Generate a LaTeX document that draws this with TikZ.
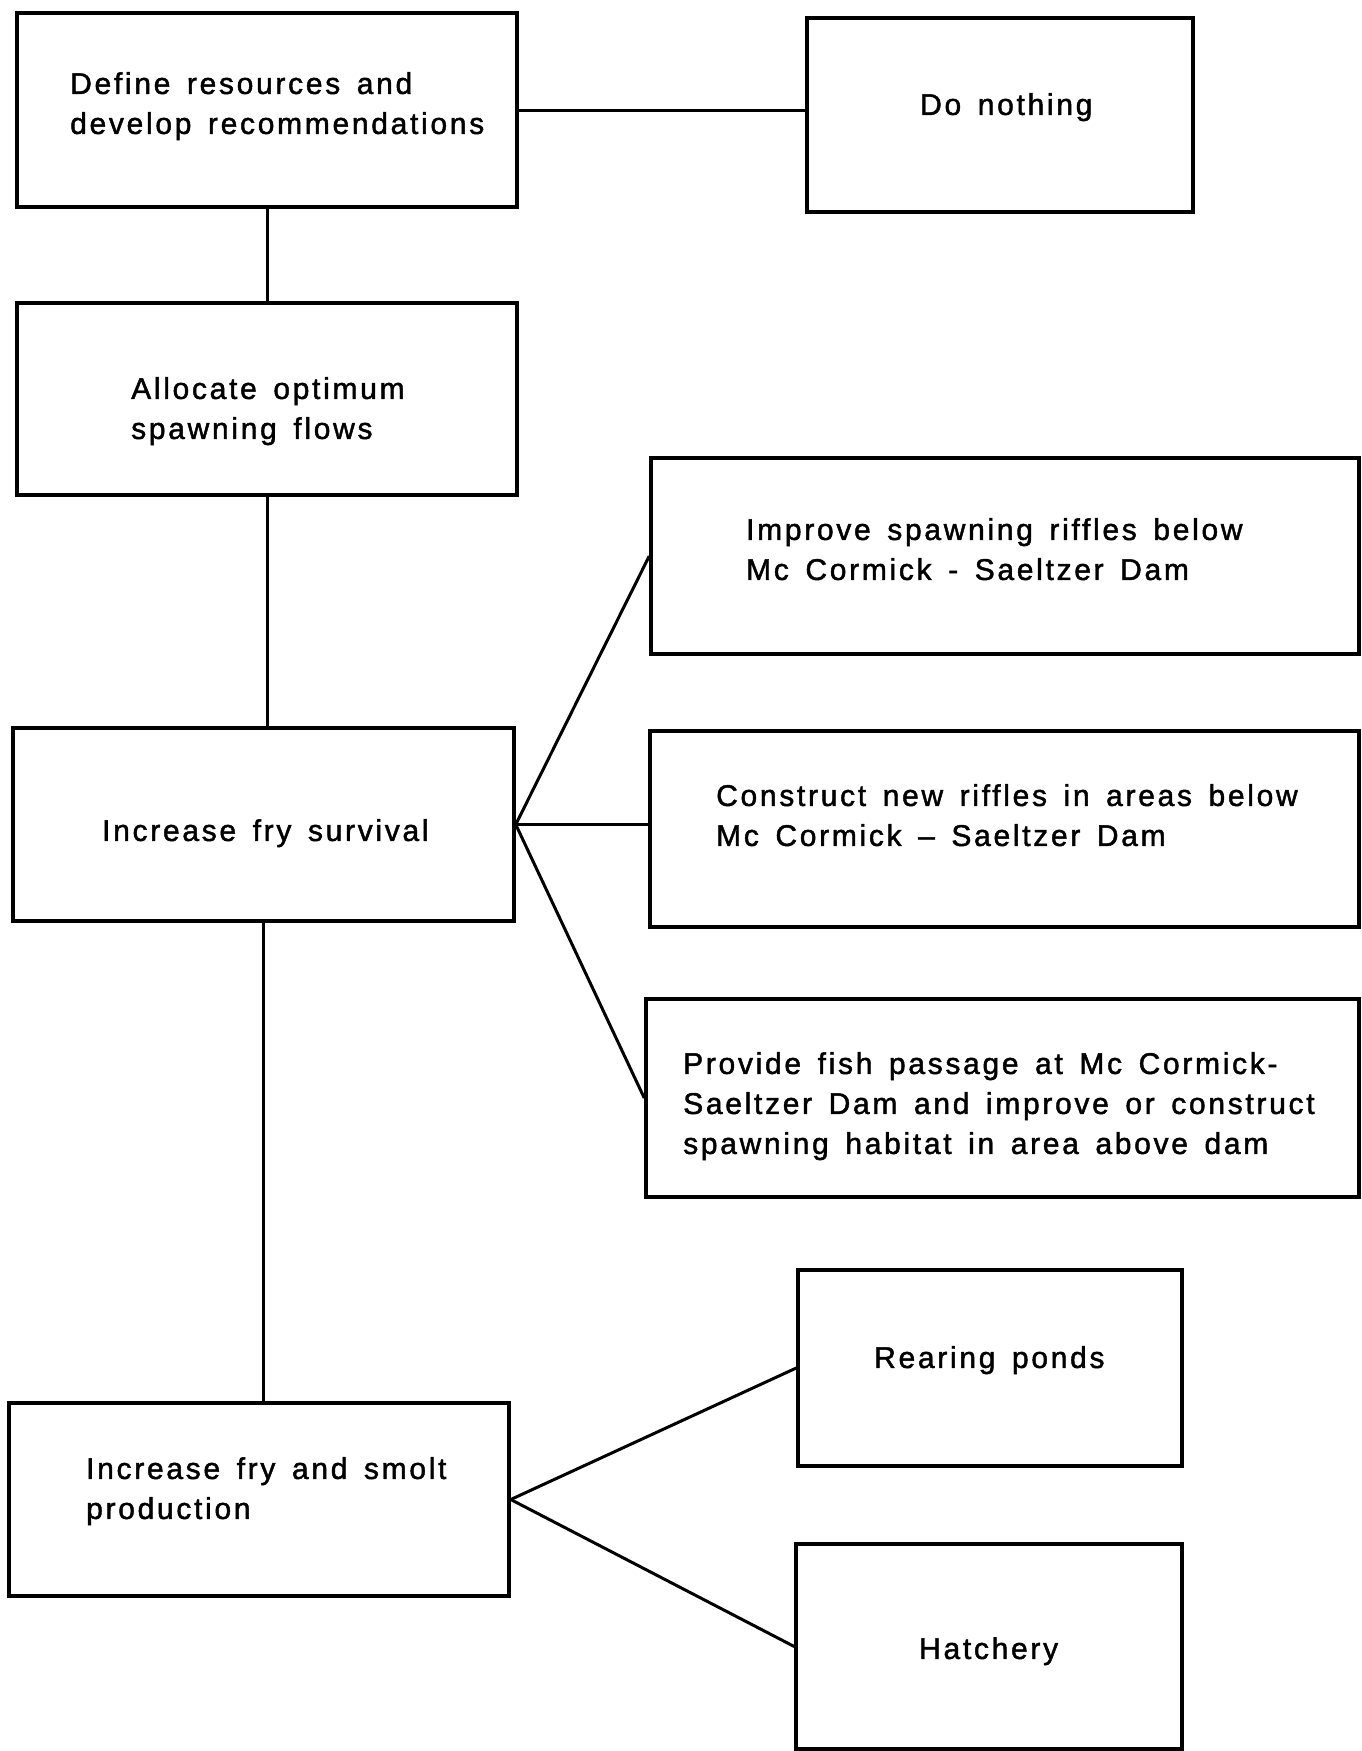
\documentclass[tikz,border=0pt]{standalone}
\usepackage{fontspec}
\setmainfont[LetterSpace=9,WordSpace=1.5,FakeBold=1.5]{Liberation Sans}
\usepackage{tikz}
\def\blok#1#2#3#4{\node [blk,minimum width=#3,minimum height=#4] (#1) at (#2) {}}
\def\say#1#2#3{\node [say] (#1) at (#2) {#3}}
\tikzstyle{blk}=[draw,rectangle,line width=3.5pt,inner sep=0pt]
\tikzstyle{say}=[inner sep=0pt,anchor=north west,align=left,font=\fontsize{30}{40}\selectfont]
\tikzstyle{link}=[line width=3pt]

\begin{document}
\begin{tikzpicture}[x=1pt,y=-1pt]
    \useasboundingbox (0,0) rectangle (1362,1751);
    % boxes
    \blok{define}{267,110}{500}{194};
    \blok{nothing}{1000,115}{386}{194};
    \blok{allocate}{267,399}{500}{192};
    \blok{improve}{1005,556}{708}{196};
    \blok{survival}{263.5,824.5}{501}{193};
    \blok{construct}{1004.5,829}{709}{196};
    \blok{passage}{1002.5,1098}{713}{198};
    \blok{ponds}{990,1368}{384}{196};
    \blok{smolt}{259,1499.5}{500}{193};
    \blok{hatchery}{989,1646.5}{386}{205};
    % texts
    \say{t-define}{70,72}{Define resources and\\develop recommendations};
    \say{t-nothing}{920,93}{Do nothing};
    \say{t-allocate}{131,377}{Allocate optimum\\spawning flows};
    \say{t-improve}{746,518}{Improve spawning riffles below\\Mc Cormick - Saeltzer Dam};
    \say{t-survival}{102,819}{Increase fry survival};
    \say{t-construct}{716,784}{Construct new riffles in areas below\\Mc Cormick -- Saeltzer Dam};
    \say{t-passage}{683,1052}{Provide fish passage at Mc Cormick-\\Saeltzer Dam and improve or construct\\spawning habitat in area above dam};
    \say{t-ponds}{874,1346}{Rearing ponds};
    \say{t-smolt}{86,1457}{Increase fry and smolt\\production};
    \say{t-hatchery}{919,1637}{Hatchery};
    % links
    \draw[link] (define.east) -- (define.east -| nothing.west);
    \draw[link] (define.south) -- (allocate.north);
    \draw[link] (allocate.south) -- (survival.north -| allocate.south);
    \draw[link] (survival.east) -- (improve.west);
    \draw[link] (survival.east) -- (construct.west |- survival.east);
    \draw[link] (survival.east) -- (passage.west);
    \draw[link] (survival.south) -- (smolt.north -| survival.south);
    \draw[link] (smolt.east) -- (ponds.west);
    \draw[link] (smolt.east) -- (hatchery.west);
  \end{tikzpicture}
\end{document}
